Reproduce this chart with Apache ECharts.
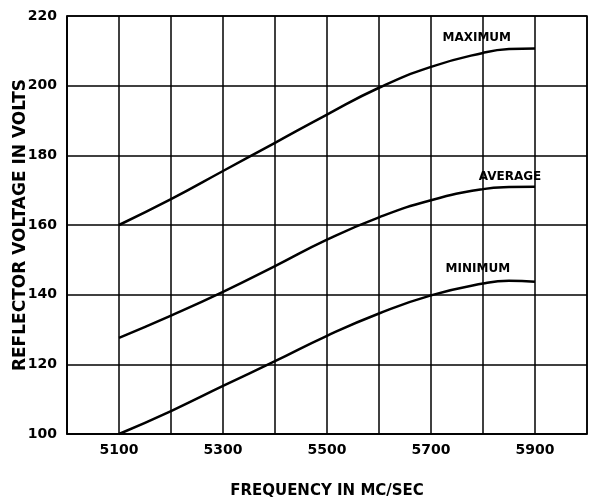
<!DOCTYPE html>
<html>
<head>
<meta charset="utf-8">
<script src="https://cdn.jsdelivr.net/npm/echarts@6/dist/echarts.min.js"></script>
<style>html,body{margin:0;padding:0;background:#fff}#c{width:595px;height:498px}</style>
</head>
<body>
<div id="c"></div>
<script>
var frequencies = [5100, 5200, 5300, 5400, 5500, 5600, 5700, 5800, 5850, 5900];
var maximum = [160.0, 167.4, 175.5, 183.6, 191.7, 199.4, 205.4, 209.4, 210.5, 210.7];
var average = [127.6, 134.0, 140.8, 148.2, 155.8, 162.2, 167.1, 170.3, 170.9, 171.0];
var minimum = [100.0, 106.6, 113.8, 120.9, 128.2, 134.6, 139.8, 143.2, 144.0, 143.7];
var xTickLabels = [5100, 5300, 5500, 5700, 5900];
var yTickLabels = [100, 120, 140, 160, 180, 200, 220];
var curveNames = ['MAXIMUM', 'AVERAGE', 'MINIMUM'];
var labelPos = [[5788, 213.8], [5852, 173.8], [5790, 147.4]];

function pairs(vals) { return frequencies.map(function (f, i) { return [f, vals[i]]; }); }

var font = '"DejaVu Sans", sans-serif';
var chart = echarts.init(document.getElementById('c'), null, { renderer: 'canvas' });
var seriesVals = [maximum, average, minimum];
chart.setOption({
  animation: false,
  backgroundColor: '#fff',
  grid: { left: 67, right: 8, top: 16, bottom: 64, outerBoundsMode: 'none', containLabel: false,
          show: true, borderColor: '#000', borderWidth: 1.5 },
  xAxis: {
    type: 'value', min: 5000, max: 6000, interval: 100,
    name: 'FREQUENCY IN MC/SEC', nameLocation: 'middle', nameGap: 50, nameMoveOverlap: false,
    nameTextStyle: { fontFamily: font, fontSize: 15, fontWeight: 'bold', color: '#000' },
    axisLine: { show: true, lineStyle: { color: '#000', width: 1.5 } },
    axisTick: { show: false },
    axisLabel: {
      margin: 9, fontFamily: font, fontSize: 14, fontWeight: 'bold', color: '#000',
      formatter: function (v) { return xTickLabels.indexOf(v) >= 0 ? String(v) : ''; }
    },
    splitLine: { show: true, lineStyle: { color: '#000', width: 1.5 } }
  },
  yAxis: {
    type: 'value', min: 100, max: 220, interval: 20,
    name: 'REFLECTOR VOLTAGE IN VOLTS', nameLocation: 'middle', nameGap: 38, nameRotate: 90, nameMoveOverlap: false,
    nameTextStyle: { fontFamily: font, fontSize: 17, fontWeight: 'bold', color: '#000' },
    axisLine: { show: true, lineStyle: { color: '#000', width: 1.5 } },
    axisTick: { show: false },
    axisLabel: {
      margin: 10, fontFamily: font, fontSize: 14, fontWeight: 'bold', color: '#000',
      formatter: function (v) { return yTickLabels.indexOf(v) >= 0 ? String(v) : ''; }
    },
    splitLine: { show: true, lineStyle: { color: '#000', width: 1.5 } }
  },
  series: seriesVals.map(function (vals, i) {
    return {
      type: 'line', name: curveNames[i], data: pairs(vals), smooth: 0.5,
      showSymbol: false, symbol: 'none',
      lineStyle: { color: '#000', width: 2.5 },
      markPoint: {
        symbol: 'circle', symbolSize: 0, silent: true,
        data: [{ coord: labelPos[i], value: curveNames[i] }],
        label: { show: true, position: 'inside', formatter: curveNames[i], fontFamily: font, fontSize: 12, fontWeight: 'bold', color: '#000' }
      }
    };
  })
});
</script>
</body>
</html>
